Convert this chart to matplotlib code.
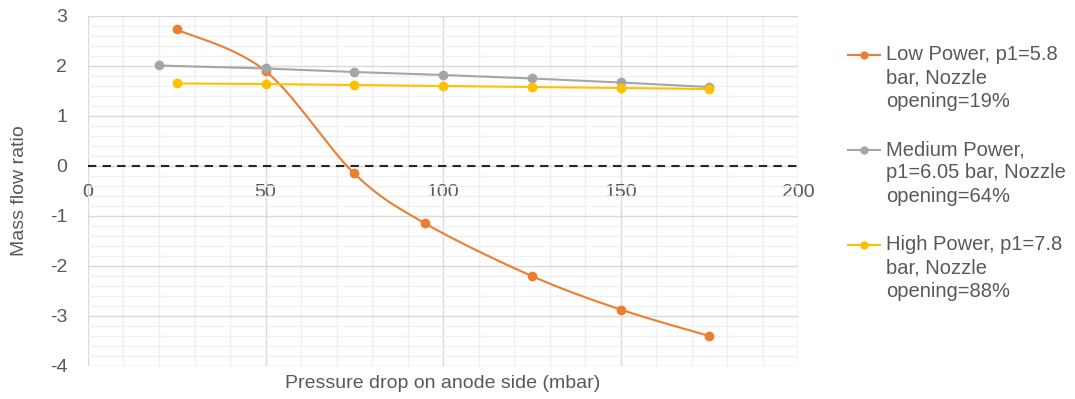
import numpy as np
import matplotlib.pyplot as plt
from matplotlib.ticker import MultipleLocator

plt.rcParams['font.family'] = ['Liberation Sans', 'DejaVu Sans']
plt.rcParams['axes.unicode_minus'] = False

# data
low_x = [25, 50, 75, 95, 125, 150, 175]
low_y = [2.73, 1.90, -0.15, -1.15, -2.20, -2.87, -3.40]
med_x = [20, 50, 75, 100, 125, 150, 175]
med_y = [2.01, 1.95, 1.88, 1.82, 1.75, 1.67, 1.58]
high_x = [25, 50, 75, 100, 125, 150, 175]
high_y = [1.65, 1.64, 1.62, 1.60, 1.58, 1.56, 1.54]

labels = ["Low Power, p1=5.8\nbar, Nozzle\nopening=19%",
          "Medium Power,\np1=6.05 bar, Nozzle\nopening=64%",
          "High Power, p1=7.8\nbar, Nozzle\nopening=88%"]
colors = ["#ED7D31", "#A5A5A5", "#FFC000"]
txt = "#595959"


def smooth(x, y, n=30):
    # Excel-like smoothed line: cubic Bezier segments through the points
    x = np.asarray(x, float)
    y = np.asarray(y, float)
    P = np.column_stack([x, y])
    out = [P[0]]
    t = np.linspace(0, 1, n)[1:]
    for i in range(len(P) - 1):
        p0 = P[i - 1] if i > 0 else P[i]
        p1, p2 = P[i], P[i + 1]
        p3 = P[i + 2] if i + 2 < len(P) else P[i + 1]
        c1 = p1 + (p2 - p0) / 6
        c2 = p2 - (p3 - p1) / 6
        for tt in t:
            b = ((1 - tt) ** 3 * p1 + 3 * (1 - tt) ** 2 * tt * c1
                 + 3 * (1 - tt) * tt ** 2 * c2 + tt ** 3 * p2)
            out.append(b)
    out = np.array(out)
    return out[:, 0], out[:, 1]


W, H = 1075, 399
fig = plt.figure(figsize=(W / 100, H / 100), dpi=100)
ax = fig.add_axes([88 / W, 1 - 366 / H, 710 / W, 350 / H])

ax.set_xlim(0, 200)
ax.set_ylim(-4, 3)
ax.xaxis.set_major_locator(MultipleLocator(50))
ax.xaxis.set_minor_locator(MultipleLocator(10))
ax.yaxis.set_major_locator(MultipleLocator(1))
ax.yaxis.set_minor_locator(MultipleLocator(0.2))
ax.grid(which='major', color='#D9D9D9', lw=1.0)
ax.grid(which='minor', color='#F0F0F0', lw=1.0)
ax.set_axisbelow(True)

for s in ['top', 'right', 'left']:
    ax.spines[s].set_visible(False)
ax.spines['bottom'].set_position(('data', 0))
ax.spines['bottom'].set_visible(False)
ax.tick_params(which='both', length=0, labelsize=14, labelcolor=txt)
ax.tick_params(axis='x', pad=13)
ax.tick_params(axis='y', pad=15)

ax.axhline(0, color='#262626', lw=1.5, ls=(0, (4, 3)), zorder=2)

sx, sy = smooth(low_x, low_y)
ax.plot(sx, sy, color=colors[0], lw=1.5, zorder=3)
ax.plot(low_x, low_y, 'o', color=colors[0], ms=6, zorder=4)
ax.plot(med_x, med_y, '-', color=colors[1], lw=1.5, zorder=3)
ax.plot(med_x, med_y, 'o', color=colors[1], ms=6, zorder=4)
ax.plot(high_x, high_y, '-', color=colors[2], lw=1.5, zorder=3)
ax.plot(high_x, high_y, 'o', color=colors[2], ms=6, zorder=4)

ax.set_xlabel("Pressure drop on anode side (mbar)", fontsize=14, color=txt)
ax.xaxis.set_label_coords(0.5, -0.025)
ax.set_ylabel("Mass flow ratio", fontsize=14, color=txt)
ax.yaxis.set_label_coords(-0.085, 0.5)

# legend drawn by hand so the key sits on the first text line, as in Excel
for i, (lab, c) in enumerate(zip(labels, colors)):
    yc = 1 - (55 + i * 95) / H
    fig.add_artist(plt.Line2D([848 / W, 880 / W], [yc, yc], color=c, lw=1.5))
    fig.add_artist(plt.Line2D([864 / W], [yc], color=c, marker='o', ms=5))
    fig.text(886 / W, yc + 10 / H, lab, fontsize=14.5, color=txt, va='top',
             linespacing=1.3)

fig.savefig("out.png", dpi=100)
